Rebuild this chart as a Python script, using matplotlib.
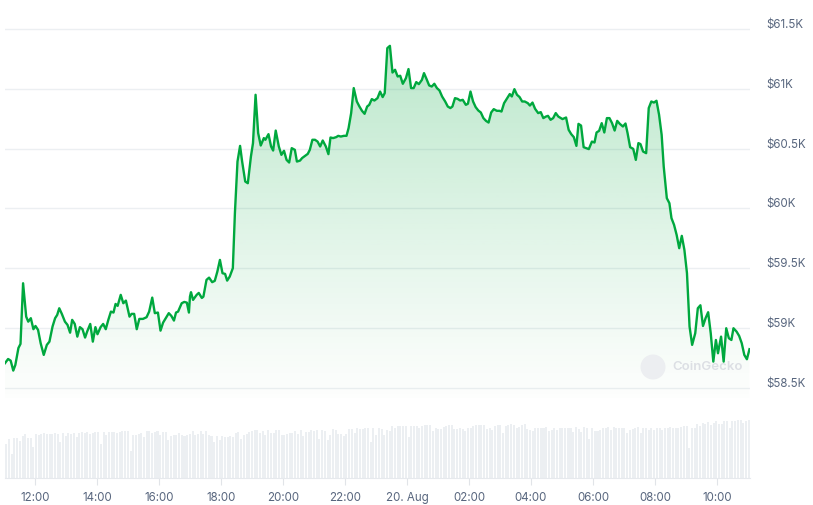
import matplotlib
matplotlib.use("Agg")
import matplotlib.pyplot as plt
import matplotlib.dates as mdates
from matplotlib.patches import Ellipse
import numpy as np
import pandas as pd

plt.rcParams['font.family'] = ['Inter', 'DejaVu Sans']

# ---------------- DATA ----------------
start = pd.Timestamp("2024-08-19 11:02")

# minutes after start for each price sample
minutes = [0, 6, 11, 16, 20, 26, 30, 35, 41, 45, 50, 55, 59, 64, 69, 75, 81, 86, 92, 97,
           101, 105, 110, 116, 121, 126, 130, 135, 140, 145, 150, 155, 159, 165, 170, 175, 179, 185, 190, 195,
           200, 205, 210, 214, 218, 224, 229, 234, 241, 245, 250, 255, 260, 267, 274, 279, 285, 290, 296, 301,
           306, 313, 317, 322, 327, 331, 335, 342, 347, 352, 356, 358,
           360, 364, 371, 375, 381, 384, 390, 395, 401, 406, 411, 416, 421, 426, 430, 435, 441, 445, 450, 455,
           459, 465, 470, 476, 480, 485, 490, 495, 501, 504, 510, 515, 519, 524, 530, 535, 540, 545, 550, 555,
           561, 565, 571, 575, 581, 586, 590, 595, 600, 605, 610, 615, 621, 626, 630, 635, 641, 645, 650, 656,
           661, 665, 670, 675, 681, 686, 691, 696, 701, 705, 710, 715,
           721, 726, 731, 735, 740, 745, 750, 755, 760, 765, 770, 776, 781, 786, 791, 796, 801, 807, 811, 816,
           821, 826, 831, 836, 841, 846, 852, 857, 862, 866, 871, 876, 881, 886, 892, 896, 901, 906, 911, 916,
           921, 926, 931, 936, 941, 946, 952, 957, 961, 966, 972, 977, 981, 986, 991, 996, 1001, 1006, 1012, 1016,
           1021, 1026, 1032, 1037, 1042, 1047, 1051, 1056, 1061, 1066, 1071,
           1079, 1086, 1091, 1096, 1101, 1106, 1110, 1115, 1120, 1125, 1130, 1136, 1141, 1145, 1150, 1155, 1160,
           1165, 1170, 1175, 1180, 1185, 1190, 1196, 1201, 1205, 1210, 1216, 1221, 1226, 1230, 1235, 1241, 1246,
           1251, 1256, 1261, 1266, 1271, 1275, 1281, 1286, 1290, 1295, 1300, 1305, 1310, 1315, 1320, 1325, 1330,
           1336, 1341, 1346, 1351, 1356, 1361, 1366, 1371, 1376, 1380, 1386, 1391, 1396, 1401, 1406, 1410, 1416,
           1421, 1426, 1431, 1436, 1441]

prices = [58707, 58742, 58728, 58645, 58692, 58834, 58868, 59375, 59096, 59054,
          59083, 58991, 59018, 58985, 58874, 58776, 58860, 58887, 59013, 59083,
          59110, 59166, 59119, 59054, 59027, 58962, 59069, 59035, 58929, 59008,
          58991, 58921, 58971, 59035, 58887, 59008, 58949, 59008, 59035, 58991,
          59069, 59138, 59130, 59202, 59186, 59278, 59208, 59230, 59096, 59119,
          59119, 58991, 59077, 59077, 59091, 59138, 59255, 59125, 59130, 58979,
          59046, 59096, 59125, 59102, 59063, 59130, 59138, 59208, 59219, 59213,
          59130, 59263,
          59300, 59236, 59278, 59294, 59252, 59263, 59403, 59422, 59384, 59395,
          59472, 59570, 59459, 59453, 59397, 59431, 59501, 59961, 60392, 60523,
          60392, 60225, 60211, 60434, 60546, 60950, 60630, 60526, 60588, 60574,
          60621, 60518, 60484, 60651, 60518, 60448, 60482, 60406, 60384, 60504,
          60490, 60392, 60400, 60421, 60440, 60456, 60490, 60574, 60574, 60559,
          60518, 60568, 60518, 60454, 60593, 60588, 60596, 60607, 60601, 60607,
          60607, 60671, 60797, 61006, 60894, 60852, 60816, 60791, 60852, 60866,
          60914, 60902,
          60922, 60977, 60931, 60964, 61340, 61359, 61136, 61159, 61103, 61109,
          61042, 61089, 61165, 61006, 61006, 61056, 61039, 61075, 61131, 61081,
          61028, 61019, 61042, 61006, 60986, 60936, 60894, 60852, 60839, 60852,
          60922, 60916, 60902, 60908, 60866, 60875, 60977, 60894, 60847, 60819,
          60802, 60755, 60732, 60718, 60802, 60830, 60816, 60816, 60810, 60880,
          60922, 60956, 60936, 60997, 60950, 60931, 60894, 60894, 60880, 60860,
          60885, 60833, 60797, 60805, 60755, 60768, 60774, 60741, 60755, 60797,
          60768,
          60747, 60760, 60657, 60621, 60596, 60523, 60707, 60693, 60512, 60504,
          60496, 60559, 60551, 60635, 60649, 60713, 60635, 60755, 60755, 60713,
          60651, 60732, 60707, 60685, 60710, 60630, 60512, 60498, 60406, 60546,
          60538, 60476, 60462, 60839, 60894, 60885, 60900, 60783, 60615, 60350,
          60086, 60044, 59919, 59863, 59779, 59668, 59771, 59654, 59459, 59013,
          58860, 58957, 59166, 59191, 59018, 59083, 59133, 58957, 58720, 58901,
          58790, 58929, 58720, 58999, 58916, 58901, 58999, 58971, 58935, 58874,
          58776, 58740, 58824]

# 24h volume (USD billions), one bar per interval
volume = [20.4, 23.6, 14.6, 24.2, 24.2, 22.4, 25.2, 26.4, 24.2, 24.2, 18.8, 26.4, 26.0, 26.4, 27.0,
          26.4, 26.4, 26.4, 27.0, 26.4, 21.8, 27.0, 25.2, 27.0, 26.4, 27.0, 24.6, 27.0, 27.6, 27.0,
          27.6, 26.4, 27.0, 27.6, 27.6, 20.4, 27.6, 26.0, 27.6, 27.6, 27.6, 27.0, 27.6, 28.4, 28.4,
          28.4, 16.4, 26.0, 25.8, 26.4, 27.0, 24.6, 28.4, 28.4, 27.0, 27.6, 28.4, 26.0, 27.6, 28.0,
          23.0, 25.2, 26.0, 26.0, 27.0, 26.0, 25.2, 26.0, 26.4, 28.4, 26.0, 26.4, 28.4, 26.4, 28.4,
          26.0, 25.2, 21.8, 25.2, 23.0, 25.2, 24.6, 24.6, 25.2, 24.6, 27.0, 27.6, 23.6, 26.0, 26.4,
          27.6, 28.4, 29.0, 29.0, 27.0, 28.4, 26.0, 29.0, 27.0, 27.0, 29.0, 29.0, 26.0, 26.0, 26.4,
          27.0, 27.0, 28.4, 26.4, 29.0, 25.2, 27.6, 27.6, 29.0, 28.4, 29.0, 23.6, 29.0, 28.4, 23.0,
          26.0, 29.6, 29.0, 26.4, 26.4, 25.2, 26.4, 29.6, 29.6, 27.0, 30.0, 29.6, 29.6, 30.0, 30.0,
          21.8, 30.0, 26.0,
          30.0, 29.6, 26.0, 29.0, 28.4, 31.4, 30.0, 31.4, 31.4, 31.4, 31.4, 24.8, 31.4, 31.4, 31.4,
          30.0, 31.4, 32.0, 32.0, 32.0, 28.4, 30.0, 29.6, 29.6, 30.8, 31.4, 32.0, 32.0, 29.6, 29.6,
          30.0, 29.6, 28.4, 30.0, 30.0, 31.4, 32.0, 32.0, 32.0, 32.0, 29.6, 30.0, 29.0, 31.4, 32.0,
          32.0, 27.2, 31.4, 32.0, 32.6, 32.0, 30.0, 30.8, 32.0, 32.4, 29.6, 28.8, 28.4, 30.0, 30.0,
          30.4, 30.4, 30.8, 28.4, 29.0, 30.0, 29.0, 30.0, 30.0, 30.0, 30.0, 30.0, 27.6, 30.8, 29.6,
          27.6, 30.8, 30.0, 23.6, 30.0, 28.4, 28.4, 29.0, 30.0, 30.0, 30.8, 29.0, 30.8, 30.0, 30.0,
          30.0, 30.0, 27.0, 29.0, 29.6, 30.0, 30.8, 27.0, 30.0, 30.0, 29.0, 30.0, 29.0, 30.0, 30.0,
          29.0, 30.0, 30.0, 30.8, 30.0, 30.0, 30.0, 30.8, 31.4, 31.4, 18.0, 30.0, 30.0, 32.6, 31.4,
          33.0, 32.6, 33.6, 32.0, 33.0, 34.4, 32.4, 32.4, 34.4, 34.4, 30.0, 34.4, 34.4, 35.0, 35.0,
          33.0, 34.4, 35.0]

price_ticks = [58500, 59000, 59500, 60000, 60500, 61000, 61500]
price_labels = ["$58.5K", "$59K", "$59.5K", "$60K", "$60.5K", "$61K", "$61.5K"]

# ---------------- STYLE ----------------
line_color = "#00a83e"
text_color = "#58667e"
grid_color = "#eceff2"
bar_color = "#eceff2"

W, H = 813, 505
fig = plt.figure(figsize=(W / 100, H / 100), dpi=100)

times = start + pd.to_timedelta(minutes, unit="min")
tnum = mdates.date2num(times)
x0 = mdates.date2num(start)
x1 = mdates.date2num(start + pd.Timedelta(minutes=1442))

# price panel
ax = fig.add_axes([5 / W, (H - 398) / H, 745 / W, 378 / H])
ax.set_xlim(x0, x1)
ax.set_ylim(58416, 61575)
for s in ax.spines.values():
    s.set_visible(False)
ax.set_xticks([])
ax.set_yticks([])
for p, lab in zip(price_ticks, price_labels):
    ax.axhline(p, color=grid_color, lw=1, zorder=0)
    ax.annotate(lab, xy=(1, p), xycoords=("axes fraction", "data"),
                xytext=(16, 1), textcoords="offset pixels", ha="left", va="baseline",
                fontsize=8.3, color=text_color)

# gradient fill under the line
ymin = ax.get_ylim()[0]
poly = ax.fill_between(tnum, prices, ymin, color="none", lw=0)
ytop = max(prices)
grad = np.linspace(0, 1, 256).reshape(-1, 1)
rgba = np.zeros((256, 1, 4))
rgba[..., 0] = 0 / 255
rgba[..., 1] = 168 / 255
rgba[..., 2] = 62 / 255
rgba[..., 3] = 0.01 + 0.26 * grad ** 1.1
im = ax.imshow(rgba, extent=[x0, x1, ymin, ytop], origin="lower", aspect="auto", zorder=1)
im.set_clip_path(poly.get_paths()[0], transform=ax.transData)

ax.plot(tnum, prices, color=line_color, lw=1.7, zorder=3, solid_joinstyle="round")

# watermark
fig.add_artist(Ellipse((653 / W, (H - 367) / H), 25 / W, 25 / H, transform=fig.transFigure,
                       facecolor="#eceef1", edgecolor="none", zorder=2))
fig.text(672 / W, (H - 367) / H, "CoinGecko", fontsize=9.5, fontweight="semibold",
         color="#dcdfe4", va="center", ha="left", zorder=2)

# volume panel
vax = fig.add_axes([5 / W, (H - 478) / H, 745 / W, 58 / H])
vax.set_xlim(x0, x1)
vax.set_ylim(0, 35)
edges = np.linspace(x0, x1, len(volume) + 1)
step = edges[1] - edges[0]
vax.bar(edges[:-1] + step / 2, volume, width=step * 0.75, color=bar_color, lw=0)
for s in ["left", "right", "top"]:
    vax.spines[s].set_visible(False)
vax.spines["bottom"].set_color("#e6e9ed")
vax.spines["bottom"].set_linewidth(0.8)
vax.set_yticks([])

vax.xaxis.set_major_locator(mdates.HourLocator(byhour=range(0, 24, 2)))


def fmt(x, pos=None):
    d = mdates.num2date(x)
    if d.hour == 0:
        return d.strftime("%-d. %b")
    return d.strftime("%H:%M")


vax.xaxis.set_major_formatter(plt.FuncFormatter(fmt))
vax.tick_params(axis="x", length=5, width=0.8, color="#e1e4e8", labelsize=8.3,
                labelcolor=text_color, pad=5)

fig.savefig("out.png", dpi=100)
